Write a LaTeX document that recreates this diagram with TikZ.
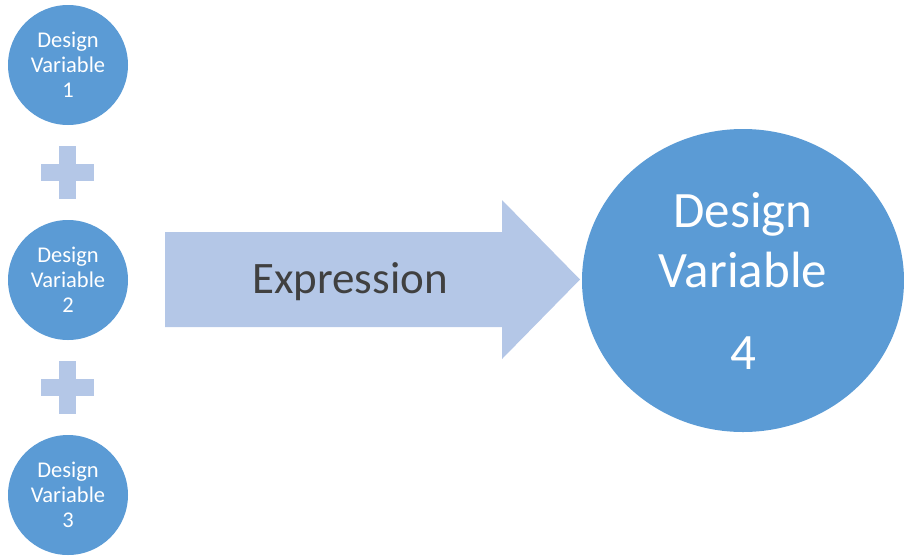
\documentclass[tikz,border=0pt]{standalone}
\usepackage{fontspec}
\setmainfont{Carlito}
\usetikzlibrary{shapes.geometric}
\definecolor{dvblue}{HTML}{5B9BD5}
\definecolor{lightblue}{HTML}{B4C7E7}
\definecolor{txtgray}{HTML}{404040}
\begin{document}
\begin{tikzpicture}[x=1pt,y=-1pt,
  smallvar/.style={circle, fill=dvblue, draw=none, minimum size=120pt, inner sep=0pt,
    text=white, align=center, font=\fontsize{22.5}{25}\selectfont},
  bigvar/.style={ellipse, fill=dvblue, draw=none, minimum width=322pt, minimum height=303pt,
    inner sep=0pt, text=white, align=center, font=\fontsize{51}{60}\selectfont},
  exprtext/.style={font=\fontsize{45}{54}\selectfont, text=txtgray, anchor=base, inner sep=0pt},
  plusshape/.pic={
    \fill[lightblue] (-26.75,-8.5) rectangle (26.75,8.5);
    \fill[lightblue] (-8.5,-26.75) rectangle (8.5,26.75);
  },
]
\useasboundingbox (0,0) rectangle (904,555);
% input design variables
\node[smallvar] (v1) at (68,65) {Design\\Variable\\1};
\pic at (67.5,172.5) {plusshape};
\node[smallvar] (v2) at (68,280) {Design\\Variable\\2};
\pic at (67.5,387.5) {plusshape};
\node[smallvar] (v3) at (68,495) {Design\\Variable\\3};
% block arrow
\fill[lightblue] (165,232) -- (502,232) -- (502,200) -- (580,279.5)
  -- (502,359) -- (502,327) -- (165,327) -- cycle;
\node[exprtext] (expr) at (350,293) {Expression};
% result
\node[bigvar] (v4) at (743,280.5) {Design\\Variable\\[22pt]4};
\end{tikzpicture}
\end{document}
